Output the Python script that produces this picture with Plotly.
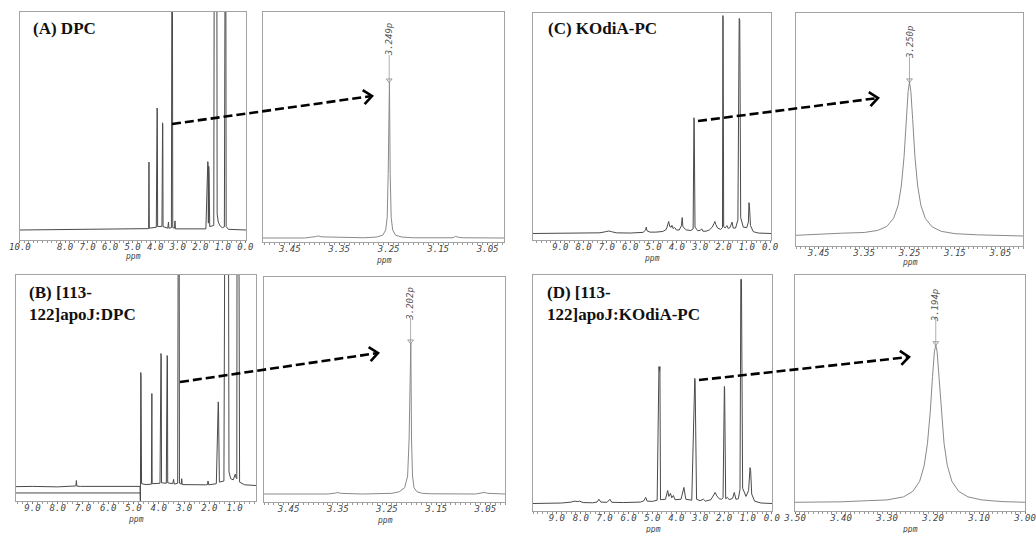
import math
import plotly.graph_objects as go

# ---------------- data (ppm, intensity in % of panel height above baseline) -------------
# (A) DPC - full spectrum
A_ppm = [10.02, 4.40, 4.29, 4.275, 4.26, 3.95, 3.915, 3.905, 3.89, 3.70, 3.672, 3.662, 3.65,
         3.44, 3.41, 3.39, 3.28, 3.255, 3.245, 3.22, 3.14, 3.12, 3.10, 1.75, 1.665, 1.655, 1.64,
         1.625, 1.61, 1.58, 1.40, 1.35, 1.285, 1.25, 1.20, 1.12, 1.02, 0.93, 0.89, 0.875, 0.85,
         0.75, -0.03]
A_int = [0, 0.3, 0.6, 29.8, 0.8, 1.2, 53.5, 52, 1.5, 1.6, 47, 46, 1.5,
         0.8, 3.5, 0.8, 1.0, 200, 200, 1.0, 0.8, 4.0, 0.5, 0.5, 30, 29, 3,
         28, 26, 1.5, 2.0, 300, 300, 7, 3.5, 1.8, 1.0, 1.4, 200, 200, 1.5,
         0.3, 0]

# (A) zoom on the N(CH3)3 peak
A2_ppm = [3.504, 3.42, 3.398, 3.392, 3.386, 3.30, 3.275, 3.262, 3.256, 3.253, 3.251, 3.2495,
          3.2485, 3.247, 3.245, 3.242, 3.236, 3.223, 3.20, 3.12, 3.115, 3.109, 3.10, 3.017]
A2_int = [0, 0, 0.6, 0.9, 0.5, 0.1, 0.4, 1.2, 3.5, 9, 28, 67.8,
          67.8, 28, 9, 3.5, 1.2, 0.4, 0.1, 0.1, 0.7, 0.3, 0.1, 0]
A2_peak, A2_label = 3.249, "3.249p"

# (B) [113-122]apoJ:DPC - full spectrum
B_ppm = [9.65, 9.0, 8.0, 7.35, 7.28, 7.26, 7.24, 7.1, 6.0, 5.0, 4.74, 4.725, 4.712, 4.70, 4.68,
         4.50, 4.29, 4.272, 4.26, 3.95, 3.912, 3.90, 3.89, 3.70, 3.668, 3.655, 3.645, 3.45, 3.41,
         3.39, 3.25, 3.215, 3.205, 3.18, 3.11, 3.09, 3.07, 2.15, 2.07, 2.05, 2.02, 1.72, 1.645,
         1.635, 1.60, 1.42, 1.33, 1.27, 1.22, 1.15, 1.05, 0.99, 0.97, 0.94, 0.91, 0.885, 0.87,
         0.80, 0.60, 0.15]
B_int = [-0.5, -0.4, -0.6, -0.4, -0.2, 2.2, -0.3, -0.4, -0.5, -0.5, -0.4, -9, 50, 48, 0.8,
         0.4, 0.6, 40.7, 0.8, 1.0, 58.4, 57, 1.2, 1.0, 57.5, 56, 1.2, 0.8, 2.7,
         0.6, 1.0, 250, 250, 1.0, 0.6, 3.0, 0.4, 0.3, 0.4, 2.0, 0.3, 0.8, 37,
         36, 1.5, 2.0, 300, 300, 6, 3, 2.5, 4, 5, 3.5, 3, 300, 300,
         1.5, 0.3, 0]
B_low_ppm = [9.65, 4.725, 4.72]
B_low_int = [-3.3, -3.3, -9]

# (B) zoom
B2_ppm = [3.50, 3.37, 3.355, 3.35, 3.345, 3.30, 3.24, 3.225, 3.214, 3.208, 3.205, 3.203,
          3.2015, 3.200, 3.198, 3.195, 3.189, 3.178, 3.16, 3.07, 3.058, 3.052, 3.045, 3.01]
B2_int = [0, 0, 0.4, 0.7, 0.3, 0, 0.3, 1.0, 2.8, 8, 24, 67.1,
          67.1, 24, 8, 2.8, 1.0, 0.3, 0.1, 0, 0.5, 0.7, 0.3, 0]
B2_peak, B2_label = 3.202, "3.202p"

# (C) KOdiA-PC - full spectrum
C_ppm = [10.17, 8.0, 7.3, 7.05, 6.92, 6.8, 6.6, 6.0, 5.45, 5.34, 5.31, 5.28, 5.15, 4.9, 4.6,
         4.45, 4.38, 4.35, 4.30, 4.24, 4.21, 4.16, 4.10, 4.07, 4.02, 3.90, 3.80, 3.77, 3.74,
         3.60, 3.40, 3.30, 3.265, 3.255, 3.22, 3.10, 3.00, 2.93, 2.88, 2.75, 2.60, 2.48, 2.40,
         2.37, 2.33, 2.25, 2.12, 2.04, 2.025, 2.015, 1.99, 1.93, 1.88, 1.85, 1.80, 1.72, 1.66,
         1.63, 1.58, 1.48, 1.38, 1.325, 1.30, 1.26, 1.15, 1.00, 0.93, 0.905, 0.885, 0.84, 0.72,
         0.50, -0.04]
C_int = [0.0, 0.1, 0.3, 0.8, 1.1, 0.8, 0.3, 0.2, 0.5, 1.5, 2.8, 1.2, 0.6, 0.6, 0.9,
         1.8, 4.5, 5.3, 3.0, 2.8, 3.6, 2.2, 2.6, 2.4, 1.6, 1.5, 3.5, 7.0, 3.0,
         1.6, 1.3, 2.0, 51, 50, 2.8, 1.2, 1.4, 2.0, 1.0, 1.0, 1.6, 2.8, 4.5,
         5.3, 4.0, 2.4, 1.8, 2.6, 96, 95, 3.0, 2.5, 3.0, 3.5, 2.2, 2.6, 4.2,
         5.0, 2.4, 2.4, 6.0, 94.7, 94, 7.0, 2.8, 2.6, 5.0, 13.6, 12, 3.5, 0.8,
         0.2, 0.0]

# (C) zoom
C2_ppm = [3.50, 3.45, 3.40, 3.35, 3.32, 3.30, 3.285, 3.275, 3.268, 3.262, 3.257, 3.253, 3.250,
          3.247, 3.243, 3.238, 3.232, 3.225, 3.215, 3.20, 3.18, 3.15, 3.10, 3.05, 3.00]
C2_int = [0.3, 0.9, 1.2, 1.5, 2.4, 4.1, 7.6, 13.2, 21.5, 34, 50, 62, 66.1,
          62, 50, 34, 21.5, 13.2, 7.5, 3.9, 2.0, 1.0, 0.5, 0.2, 0.0]
C2_peak, C2_label = 3.250, "3.250p"

# (D) [113-122]apoJ:KOdiA-PC - full spectrum
D_ppm = [10.0, 8.8, 8.4, 8.25, 8.15, 8.05, 7.9, 7.5, 7.32, 7.24, 7.16, 6.90, 6.78, 6.70, 6.2,
         5.5, 5.35, 5.28, 5.22, 5.0, 4.80, 4.725, 4.70, 4.685, 4.66, 4.45, 4.36, 4.31, 4.24,
         4.19, 4.12, 4.05, 3.80, 3.68, 3.60, 3.35, 3.225, 3.21, 3.15, 3.0, 2.86, 2.78, 2.55,
         2.42, 2.37, 2.30, 2.20, 2.10, 2.04, 1.985, 1.975, 1.93, 1.86, 1.78, 1.64, 1.57, 1.50,
         1.40, 1.33, 1.295, 1.27, 1.22, 1.08, 0.97, 0.91, 0.885, 0.84, 0.72, 0.45, -0.01]
D_int = [0, 0.2, 0.6, 1.0, 0.8, 1.0, 0.4, 0.3, 0.6, 1.8, 0.6, 0.5, 1.8, 0.5, 0.4,
         0.6, 1.2, 2.6, 1.0, 0.9, 1.4, 58, 56, 58, 1.6, 1.8, 5.5, 3.0, 4.3,
         2.4, 3.4, 1.6, 1.8, 6.8, 1.8, 1.4, 53, 52, 1.8, 1.2, 1.8, 1.0, 1.6,
         4.0, 4.7, 3.2, 2.0, 1.8, 2.4, 49.6, 49, 2.0, 2.6, 1.6, 2.2, 4.7, 1.8,
         2.0, 6.0, 95, 95, 6.5, 3.0, 5.5, 15.2, 14, 4.0, 1.0, 0.2, 0]

# (D) zoom
D2_ppm = [3.50, 3.45, 3.40, 3.34, 3.30, 3.264, 3.244, 3.229, 3.219, 3.212, 3.206, 3.201, 3.197,
          3.194, 3.191, 3.187, 3.182, 3.176, 3.169, 3.159, 3.144, 3.124, 3.094, 3.05, 3.00]
D2_int = [0.3, 0.4, 0.5, 1.0, 1.3, 2.6, 4.9, 9.2, 16, 25.3, 38.6, 53.6, 64,
          67, 64, 53.6, 38.6, 25.3, 16, 9.2, 4.9, 2.6, 1.3, 0.6, 0.3]
D2_peak, D2_label = 3.194, "3.194p"

full_ticks_A = [10, 8, 7, 6, 5, 4, 3, 2, 1, 0]
full_ticks_B = [9, 8, 7, 6, 5, 4, 3, 2, 1]
full_ticks_CD = [9, 8, 7, 6, 5, 4, 3, 2, 1, 0]
zoom_ticks = [3.45, 3.35, 3.25, 3.15, 3.05]
zoom_ticks_D = [3.50, 3.40, 3.30, 3.20, 3.10, 3.00]

titles = {
    "A": "(A) DPC",
    "C": "(C) KOdiA-PC",
    "B": "(B) [113-<br>122]apoJ:DPC",
    "D": "(D) [113-<br>122]apoJ:KOdiA-PC",
}

# ---------------- layout helpers ----------------
W, H = 1036, 533


def px(x):
    return x / W


def py(y):
    return 1 - y / H


# box = (left, top, right, bottom) in pixels, base = baseline height above bottom (px)
panels = [
    dict(box=(19.5, 12, 246, 240), base=10, xr=[10.02, -0.03], tv=full_ticks_A, fmt="{:.1f}",
         x=A_ppm, y=A_int, zoom=False, mdt=0.2, ppm=16),
    dict(box=(263, 12, 504, 242), base=4, xr=[3.504, 3.017], tv=zoom_ticks, fmt="{:.2f}",
         x=A2_ppm, y=A2_int, zoom=True, mdt=0.01, ppm=18,
         peak=A2_peak, lab=A2_label, lc=86.5, lb=79.6),
    dict(box=(533, 13, 771, 240), base=6.5, xr=[10.17, -0.04], tv=full_ticks_CD, fmt="{:.1f}",
         x=C_ppm, y=C_int, zoom=False, mdt=0.2, ppm=18),
    dict(box=(796, 13, 1023, 246), base=10, xr=[3.50, 3.00], tv=zoom_ticks, fmt="{:.2f}",
         x=C2_ppm, y=C2_int, zoom=True, mdt=0.01, ppm=16,
         peak=C2_peak, lab=C2_label, lc=83, lb=76.8),
    dict(box=(16, 275, 256, 501), base=15.5, xr=[9.65, 0.15], tv=full_ticks_B, fmt="{:.1f}",
         x=B_ppm, y=B_int, zoom=False, mdt=0.2, ppm=18),
    dict(box=(264, 277, 505, 502), base=8, xr=[3.50, 3.01], tv=zoom_ticks, fmt="{:.2f}",
         x=B2_ppm, y=B2_int, zoom=True, mdt=0.01, ppm=18,
         peak=B2_peak, lab=B2_label, lc=84.4, lb=78.2),
    dict(box=(533, 275, 772, 511), base=7.5, xr=[10.0, -0.01], tv=full_ticks_CD, fmt="{:.1f}",
         x=D_ppm, y=D_int, zoom=False, mdt=0.2, ppm=18),
    dict(box=(795, 275, 1025, 511), base=8, xr=[3.50, 3.00], tv=zoom_ticks_D, fmt="{:.2f}",
         x=D2_ppm, y=D2_int, zoom=True, mdt=0.01, ppm=18,
         peak=D2_peak, lab=D2_label, lc=83.7, lb=78.4),
]

fig = go.Figure()
layout = dict(
    width=W, height=H, autosize=False,
    margin=dict(l=0, r=0, t=0, b=0, pad=0),
    paper_bgcolor="white", plot_bgcolor="white",
    showlegend=False, hovermode=False,
)
annotations = []
shapes = []

FRAME = "#a3a3a3"
TICKFONT = dict(family="DejaVu Sans Mono", size=9, color="#444", style="italic")

for i, p in enumerate(panels, start=1):
    sfx = "" if i == 1 else str(i)
    x0, y0, x1, y1 = p["box"]
    hbox = y1 - y0
    yr = [-p["base"] / hbox * 100, (hbox - p["base"]) / hbox * 100]
    layout["xaxis" + sfx] = dict(
        domain=[px(x0), px(x1)], range=p["xr"], anchor="y" + sfx, automargin=False,
        showline=True, mirror=True, linecolor=FRAME, linewidth=1.3,
        ticks="outside", ticklen=2, tickcolor="#777", tickwidth=1,
        tickmode="array", tickvals=p["tv"], ticktext=[p["fmt"].format(v) for v in p["tv"]],
        tickfont=TICKFONT, ticklabelstandoff=-4, showgrid=False, zeroline=False,
        minor=dict(tickmode="linear", tick0=0, dtick=p["mdt"], ticks="outside",
                   ticklen=1.5, tickcolor="#999"),
    )
    layout["yaxis" + sfx] = dict(
        domain=[py(y1), py(y0)], range=yr, anchor="x" + sfx, automargin=False,
        showline=True, mirror=True, linecolor=FRAME, linewidth=1.3,
        showticklabels=False, ticks="", showgrid=False, zeroline=False,
    )
    col = "#8a8a8a" if p["zoom"] else "#4a4a4a"
    fig.add_trace(go.Scatter(x=p["x"], y=p["y"], mode="lines",
                             line=dict(color=col, width=1),
                             xaxis="x" + sfx, yaxis="y" + sfx))
    if i == 5:
        fig.add_trace(go.Scatter(x=B_low_ppm, y=B_low_int, mode="lines",
                                 line=dict(color=col, width=1),
                                 xaxis="x" + sfx, yaxis="y" + sfx))
    # "ppm" axis title
    annotations.append(dict(
        text="ppm", xref="paper", yref="paper",
        x=px((x0 + x1) / 2), y=py(y1 + p["ppm"]),
        showarrow=False, xanchor="center", yanchor="middle",
        font=dict(family="DejaVu Sans Mono", size=8, color="#444", style="italic"),
    ))
    if p["zoom"]:
        top = max(p["y"])
        fig.add_trace(go.Scatter(x=[p["peak"], p["peak"]], y=[top, p["lb"]], mode="lines",
                                 line=dict(color="#9a9a9a", width=0.8),
                                 xaxis="x" + sfx, yaxis="y" + sfx))
        fig.add_trace(go.Scatter(x=[p["peak"]], y=[top + 0.8], mode="markers",
                                 marker=dict(symbol="triangle-down-open", size=5, color="#888",
                                             line=dict(width=0.8)),
                                 xaxis="x" + sfx, yaxis="y" + sfx))
        annotations.append(dict(
            text=p["lab"], x=p["peak"], y=p["lc"], xref="x" + sfx, yref="y" + sfx,
            showarrow=False, textangle=-90, xanchor="center", yanchor="middle",
            font=dict(family="DejaVu Sans Mono", size=9, color="#555", style="italic"),
        ))

# Panel titles
title_pos = {"A": (31, 28), "C": (546, 28), "B": (27, 303), "D": (545, 303)}
for k, (tx, ty) in title_pos.items():
    annotations.append(dict(
        text="<b>" + titles[k] + "</b>", xref="paper", yref="paper",
        x=px(tx), y=py(ty), xanchor="left", yanchor="middle", align="left",
        showarrow=False,
        font=dict(family="Liberation Serif", size=17, color="#111"),
    ))

# Dashed arrows from full spectrum peak to the expanded view
arrows = [((172, 124), (372, 96)), ((180, 382), (378, 353)),
          ((698, 121), (878, 98)), ((699, 380), (909, 357))]
for (sx, sy), (tx, ty) in arrows:
    dx, dy = tx - sx, ty - sy
    L = math.hypot(dx, dy)
    ux, uy = dx / L, dy / L
    shapes.append(dict(type="line", xref="paper", yref="paper",
                       x0=px(sx), y0=py(sy), x1=px(tx - 2 * ux), y1=py(ty - 2 * uy),
                       line=dict(color="black", width=2.6, dash="9px,4px")))
    arms = []
    for ang in (40, -40):
        a = math.radians(ang)
        rx = ux * math.cos(a) - uy * math.sin(a)
        ry = ux * math.sin(a) + uy * math.cos(a)
        arms.append((tx - 11 * rx, ty - 11 * ry))
    path = "M {:.5f},{:.5f} L {:.5f},{:.5f} L {:.5f},{:.5f}".format(
        px(arms[0][0]), py(arms[0][1]), px(tx), py(ty), px(arms[1][0]), py(arms[1][1]))
    shapes.append(dict(type="path", xref="paper", yref="paper", path=path,
                       line=dict(color="black", width=2.6)))

layout["annotations"] = annotations
layout["shapes"] = shapes
fig.update_layout(**layout)
fig.write_html("out.html", config={"displayModeBar": False},
               post_script="document.body.style.margin='0px';document.body.style.padding='0px';")
